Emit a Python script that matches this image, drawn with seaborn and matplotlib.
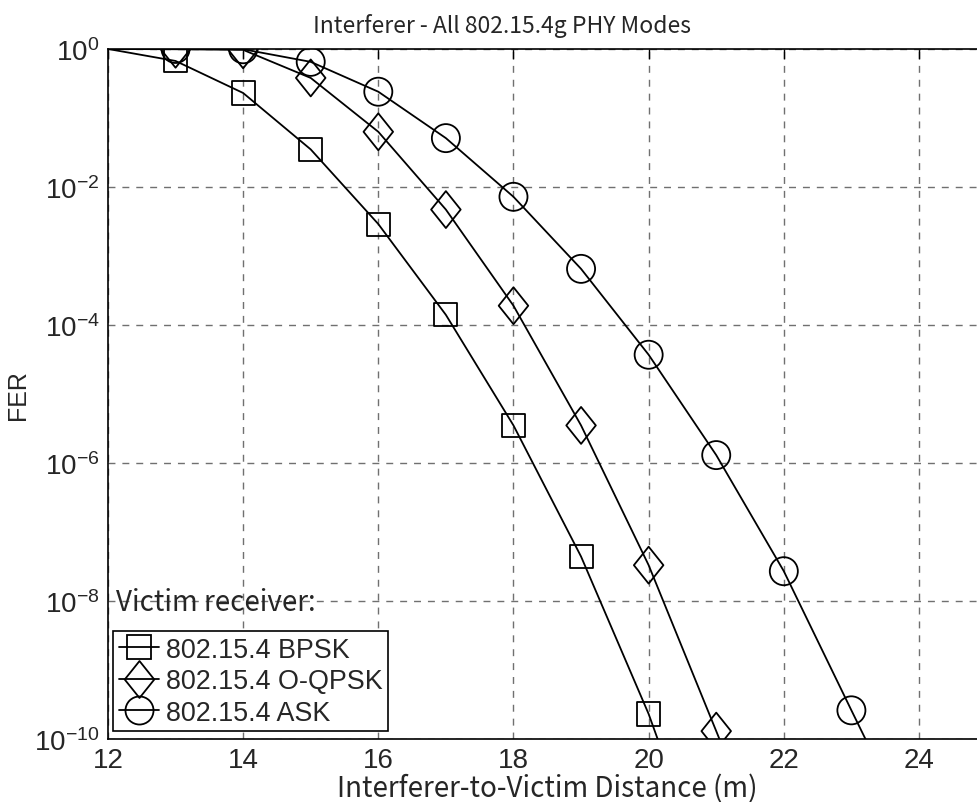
import numpy as np
import pandas as pd
import matplotlib
matplotlib.use("Agg")
import matplotlib.pyplot as plt
from matplotlib.lines import Line2D
from matplotlib.path import Path
import seaborn as sns

# ---- data ----
series_names = ["802.15.4 BPSK", "802.15.4 O-QPSK", "802.15.4 ASK"]

bpsk_x = [13, 14, 15, 16, 17, 18, 19, 20]
bpsk_fer = [0.67, 0.23, 0.035, 0.0029, 1.4e-4, 3.5e-6, 4.4e-8, 2.3e-10]

oqpsk_x = [13, 14, 15, 16, 17, 18, 19, 20, 21]
oqpsk_fer = [0.99, 0.97, 0.38, 0.063, 0.0047, 1.9e-4, 3.5e-6, 3.3e-8, 1.3e-10]

ask_x = [13, 14, 15, 16, 17, 18, 19, 20, 21, 22, 23]
ask_fer = [1.0, 0.99, 0.65, 0.24, 0.051, 0.0072, 6.5e-4, 3.7e-5, 1.3e-6, 2.7e-8, 2.6e-10]

# curve traces (start at 12, run past the bottom edge)
bpsk_line_x = [12] + bpsk_x + [20.5]
bpsk_line_fer = [1.0] + bpsk_fer + [1e-11]
oqpsk_line_x = [12] + oqpsk_x + [21.5]
oqpsk_line_fer = [1.0] + oqpsk_fer + [8e-12]
ask_line_x = [12] + ask_x + [23.5]
ask_line_fer = [1.0] + ask_fer + [2.6e-11]

x_ticks = [12, 14, 16, 18, 20, 22, 24]
y_ticks = [1e-10, 1e-8, 1e-6, 1e-4, 1e-2, 1e0]

# ---- style ----
sns.set_theme(style="white")
plt.rcParams["font.family"] = ["Liberation Sans", "DejaVu Sans"]
plt.rcParams["mathtext.fontset"] = "custom"
plt.rcParams["mathtext.rm"] = "Liberation Sans"
plt.rcParams["mathtext.it"] = "Liberation Sans:italic"
plt.rcParams["mathtext.bf"] = "Liberation Sans:bold"

cjk = ["Noto Sans CJK JP", "DejaVu Sans"]

diamond = Path([(0, 1), (0.8, 0), (0, -1), (-0.8, 0), (0, 1)],
               [Path.MOVETO, Path.LINETO, Path.LINETO, Path.LINETO, Path.CLOSEPOLY])

marker_styles = ["s", diamond, "o"]
marker_sizes = [16.6, 26.6, 20.2]  # points

fig = plt.figure(figsize=(9.77, 8.03), dpi=100)
ax = fig.add_axes([0.1105, 0.0785, 0.8993, 0.8593])

lines = [(bpsk_line_x, bpsk_line_fer), (oqpsk_line_x, oqpsk_line_fer), (ask_line_x, ask_line_fer)]
points = [(bpsk_x, bpsk_fer), (oqpsk_x, oqpsk_fer), (ask_x, ask_fer)]

for (lx, ly), (px, py), mk, ms in zip(lines, points, marker_styles, marker_sizes):
    sns.lineplot(x=lx, y=ly, ax=ax, color="black", linewidth=1.3, sort=False,
                 estimator=None, legend=False)
    sns.scatterplot(x=px, y=py, ax=ax, marker=mk, s=ms ** 2, facecolor="none",
                    edgecolor="black", linewidth=1.3, legend=False, zorder=3)

ax.set_yscale("log")
ax.set_xlim(12, 25)
ax.set_ylim(1e-10, 1)
ax.set_xticks(x_ticks)
ax.set_yticks(y_ticks)
ax.minorticks_off()
ax.tick_params(axis="both", which="major", direction="in", length=7, width=1,
               labelsize=20, top=True, right=True, color="black", pad=6)
ax.grid(True, which="major", linestyle=(0, (5, 5)), color="#707070", linewidth=1)
for sp in ax.spines.values():
    sp.set_color("black")
    sp.set_linewidth(1.2)

ax.set_title("Interferer - All 802.15.4g PHY Modes", family=cjk, fontsize=16.5,
             x=0.448, pad=12)
ax.set_xlabel("Interferer-to-Victim Distance (m)", family=cjk, fontsize=20, labelpad=0)
ax.set_ylabel("FER", fontsize=18, labelpad=3)

ax.text(0.009, 0.199, "Victim receiver:", transform=ax.transAxes, family=cjk,
        fontsize=20, va="center", ha="left", zorder=5)

handles = [Line2D([], [], color="black", linewidth=1.3, marker=mk, markersize=ms,
                  markerfacecolor="none", markeredgecolor="black", markeredgewidth=1.3)
           for mk, ms in zip(marker_styles, marker_sizes)]
leg = ax.legend(handles, series_names, loc="lower left", bbox_to_anchor=(0.006, 0.0116),
                borderaxespad=0, fontsize=19.4, frameon=True, fancybox=False,
                handlelength=1.5, handletextpad=0.25, labelspacing=0.2, borderpad=0.2)
leg.get_frame().set_edgecolor("black")
leg.get_frame().set_linewidth(1.2)
leg.get_frame().set_alpha(1)

fig.savefig("out.png", dpi=100)
